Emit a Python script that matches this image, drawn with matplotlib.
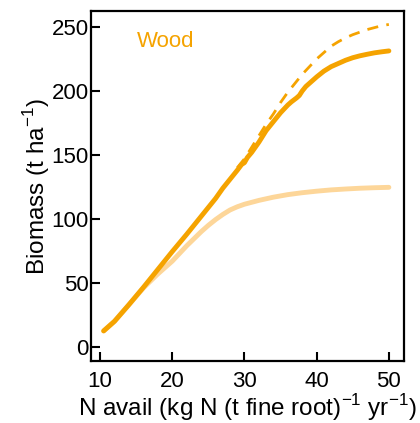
import matplotlib
matplotlib.use("Agg")
import matplotlib.pyplot as plt

plt.rcParams['font.family'] = ['Liberation Sans', 'DejaVu Sans']
plt.rcParams['mathtext.fontset'] = 'custom'
plt.rcParams['mathtext.rm'] = 'Liberation Sans'

# wood biomass vs N availability
n_solid = [10.5, 12, 14, 16, 18, 20, 22, 24, 26, 27, 28, 29, 29.6, 30, 30.4,
           31, 32, 33, 34, 35, 36, 36.5, 37.2, 37.6, 38.0, 38.5, 39, 40, 41,
           42, 43, 44, 45, 46, 47, 48, 49, 50]
wood_solid = [12.5, 20, 33, 46.5, 60.5, 74.5, 88, 102, 116, 124, 131, 138,
              142.5, 144, 148, 152, 160, 169, 176, 183, 189, 191.5, 194.5,
              196.5, 200, 203.5, 206, 211, 215.5, 219, 221.5, 224, 226, 227.5,
              228.7, 229.8, 230.6, 231.3]

n_dash = [29, 30, 31, 32, 33, 34, 35, 36, 37, 38, 39, 40, 41, 42, 43, 44, 45,
          46, 47, 48, 49, 50]
wood_dash = [140, 147, 156, 165, 174, 182, 191, 199, 206, 213, 219, 225, 230,
             235, 238.5, 241.5, 244, 246, 248, 249.5, 251, 252]

n_light = [10.5, 12, 14, 16, 17, 18, 19, 20, 21, 22, 23, 24, 25, 26, 27, 28,
           29, 30, 32, 34, 36, 38, 40, 42, 44, 46, 48, 50]
wood_light = [12.5, 20, 33, 46, 51.5, 57, 62, 67, 73, 79, 84.5, 90, 95, 99.5,
              103.5, 107, 109.5, 111.5, 114.5, 117, 119, 120.5, 121.7, 122.7,
              123.4, 124, 124.4, 124.7]

xticks = [10, 20, 30, 40, 50]
yticks = [0, 50, 100, 150, 200, 250]

orange = '#F5A300'
light = '#FDD699'

fig = plt.figure(figsize=(4.2, 4.23), dpi=100)
ax = fig.add_axes([0.2167, 0.1466, 0.7453, 0.8274])

ax.plot(n_light, wood_light, color=light, lw=3.5, solid_capstyle='round')
ax.plot(n_dash, wood_dash, color=orange, lw=2.0, ls=(0, (4, 3)))
ax.plot(n_solid, wood_solid, color=orange, lw=3.5, solid_capstyle='round')

ax.text(15.1, 239, 'Wood', color=orange, fontsize=16, va='center', ha='left')

ax.set_xlim(8.75, 52.1)
ax.set_ylim(-11, 262.5)
ax.set_xticks(xticks)
ax.set_yticks(yticks)
ax.tick_params(direction='in', length=6.5, width=1.5, labelsize=16)
ax.tick_params(axis='x', pad=7)
ax.tick_params(axis='y', pad=1.5)
for s in ax.spines.values():
    s.set_linewidth(1.6)

ax.set_xlabel('N avail (kg N (t fine root)$^{-1}$ yr$^{-1}$)', fontsize=17.5,
              labelpad=0)
ax.set_ylabel('Biomass (t ha$^{-1}$)', fontsize=17.5, labelpad=0)

fig.savefig('out.png', dpi=100)
